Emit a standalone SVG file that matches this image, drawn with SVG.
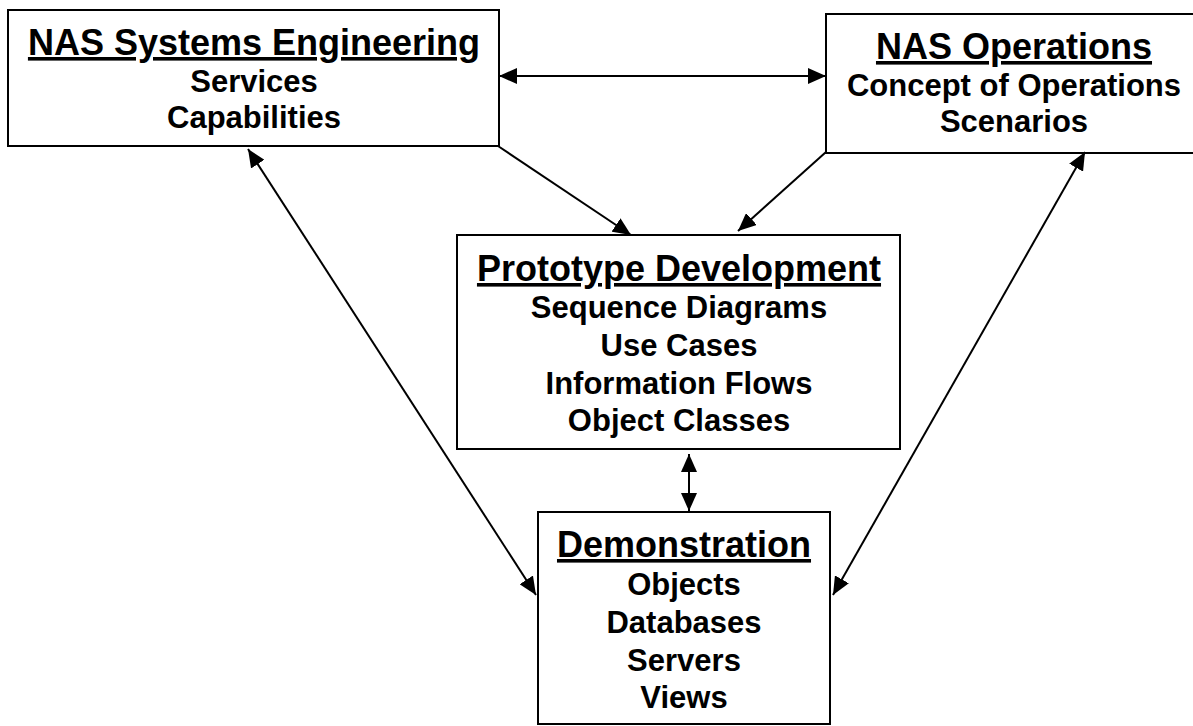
<svg xmlns="http://www.w3.org/2000/svg" width="1193" height="726" viewBox="0 0 1193 726">
<style>
.box{fill:#fff;stroke:#000;stroke-width:2}
.t{font-family:"Liberation Sans",Arial,sans-serif;font-weight:bold;fill:#000;text-anchor:middle}
.h{font-size:36px;text-decoration:underline}
.b{font-size:31px}
.c{stroke:#000;stroke-width:2;fill:none}
</style>
<defs>
<marker id="ah" markerUnits="userSpaceOnUse" markerWidth="18" markerHeight="16" refX="18" refY="8" orient="auto-start-reverse" viewBox="0 0 18 16">
<path d="M0,0 L18,8 L0,16 z" fill="#000"/>
</marker>
</defs>
<rect width="1193" height="726" fill="#fff"/>
<g id="nas-se">
<rect class="box" x="8" y="10" width="491" height="136"/>
<text class="t h" x="254" y="55">NAS Systems Engineering</text>
<text class="t b" x="254" y="92">Services</text>
<text class="t b" x="254" y="128">Capabilities</text>
</g>
<g id="nas-ops">
<rect class="box" x="826" y="14" width="380" height="139"/>
<text class="t h" x="1014" y="59">NAS Operations</text>
<text class="t b" x="1014" y="96">Concept of Operations</text>
<text class="t b" x="1014" y="132">Scenarios</text>
</g>
<g id="prototype">
<rect class="box" x="457" y="235" width="443" height="214"/>
<text class="t h" x="679" y="281">Prototype Development</text>
<text class="t b" x="679" y="318">Sequence Diagrams</text>
<text class="t b" x="679" y="356">Use Cases</text>
<text class="t b" x="679" y="394">Information Flows</text>
<text class="t b" x="679" y="431">Object Classes</text>
</g>
<g id="demo">
<rect class="box" x="538" y="512" width="292" height="212"/>
<text class="t h" x="684" y="557">Demonstration</text>
<text class="t b" x="684" y="595">Objects</text>
<text class="t b" x="684" y="633">Databases</text>
<text class="t b" x="684" y="671">Servers</text>
<text class="t b" x="684" y="708">Views</text>
</g>
<g id="connectors">
<line class="c" x1="499" y1="76" x2="826" y2="76" marker-start="url(#ah)" marker-end="url(#ah)"/>
<line class="c" x1="498" y1="146" x2="631" y2="235" marker-end="url(#ah)"/>
<line class="c" x1="826" y1="152" x2="738" y2="231" marker-end="url(#ah)"/>
<line class="c" x1="248" y1="149" x2="536" y2="595" marker-start="url(#ah)" marker-end="url(#ah)"/>
<line class="c" x1="1085" y1="152" x2="833" y2="595" marker-start="url(#ah)" marker-end="url(#ah)"/>
<line class="c" x1="689" y1="454" x2="689" y2="511" marker-start="url(#ah)" marker-end="url(#ah)"/>
</g>
</svg>
